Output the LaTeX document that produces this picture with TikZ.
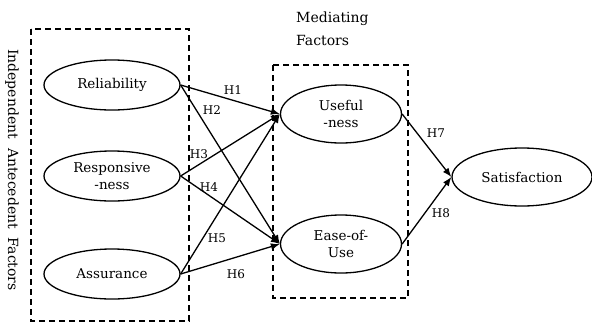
\documentclass[tikz,border=0pt]{standalone}
\usepackage{fontspec}
\setmainfont{DejaVu Serif}
\usetikzlibrary{shapes.geometric,arrows.meta}
\begin{document}
\begin{tikzpicture}[x=1pt,y=-1pt,
    factor/.style={ellipse, draw, line width=1.3pt, inner sep=0pt,
      minimum width=136pt, minimum height=50pt, align=center,
      font=\fontsize{13.5}{17}\selectfont},
    mediator/.style={factor, minimum width=121pt, minimum height=58pt},
    groupbox/.style={draw, dashed, line width=1.2pt, dash pattern=on 6pt off 4pt},
    hpath/.style={-{Latex[length=9pt,width=7pt]}, line width=1.3pt},
    hlabel/.style={inner sep=0pt, font=\fontsize{12}{14}\selectfont}]
    \useasboundingbox (0,0) rectangle (592,322);
    % dashed group boxes
    \draw [groupbox] (31,29) rectangle (189,321);
    \draw [groupbox] (273,65) rectangle (408,298);
    % group titles
    \node [rotate=-90, font=\fontsize{14}{17}\selectfont] (indeplabel) at (12,170) {Independent\ \ Antecedent\ \ Factors};
    \node [anchor=north west, align=left, inner sep=0pt, font=\fontsize{14}{23}\selectfont] (medlabel) at (296,12) {Mediating\\Factors};
    % independent factors
    \node [factor] (rel) at (112,85) {Reliability};
    \node [factor] (resp) at (112,176) {Responsive\\-ness};
    \node [factor] (assu) at (112,274) {Assurance};
    % mediating factors
    \node [mediator] (useful) at (341,114) {Useful\\-ness};
    \node [mediator] (ease) at (341,244) {Ease-of-\\Use};
    % outcome
    \node [factor, minimum width=140pt, minimum height=58pt] (sat) at (522,177) {Satisfaction};
    % hypothesised paths
    \draw [hpath] (rel.east) -- (useful.west);
    \draw [hpath] (rel.east) -- (ease.west);
    \draw [hpath] (resp.east) -- (useful.west);
    \draw [hpath] (resp.east) -- (ease.west);
    \draw [hpath] (assu.east) -- (useful.west);
    \draw [hpath] (assu.east) -- (ease.west);
    \draw [hpath] (useful.east) -- (sat.west);
    \draw [hpath] (ease.east) -- (sat.west);
    % path labels
    \node [hlabel] (h1) at (233,90) {H1};
    \node [hlabel] (h2) at (212,110) {H2};
    \node [hlabel] (h3) at (199,154) {H3};
    \node [hlabel] (h4) at (209,187) {H4};
    \node [hlabel] (h5) at (217,238) {H5};
    \node [hlabel] (h6) at (236,274) {H6};
    \node [hlabel] (h7) at (436,133) {H7};
    \node [hlabel] (h8) at (441,213) {H8};
\end{tikzpicture}
\end{document}
